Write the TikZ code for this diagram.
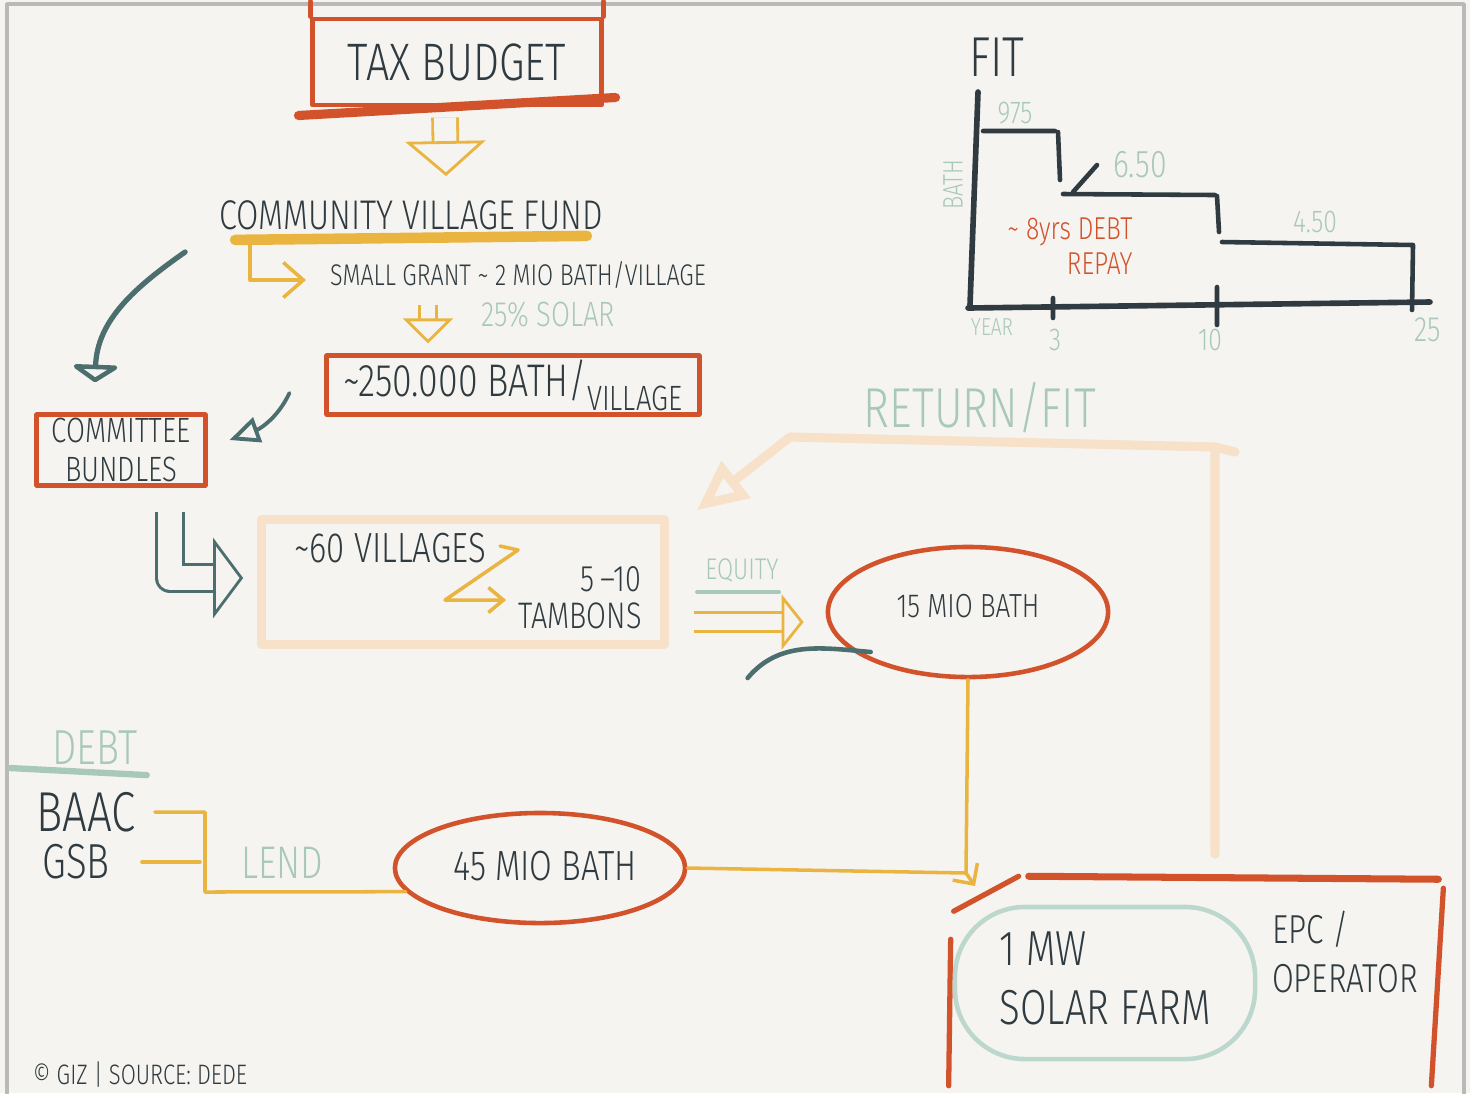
\documentclass[tikz,border=0pt]{standalone}
\usepackage{fontspec}
\setmainfont[FakeStretch=0.78,UprightFont=* Light]{Fira Sans}
\usepackage{xcolor}
\usetikzlibrary{positioning,arrows.meta,shapes.geometric,calc}

\definecolor{paper}{HTML}{F6F4F0}
\definecolor{brick}{HTML}{D2532B}
\definecolor{ink}{HTML}{2F3B40}
\definecolor{slate}{HTML}{4C6E6E}
\definecolor{amber}{HTML}{E9B440}
\definecolor{sage}{HTML}{A8C8BC}
\definecolor{peach}{HTML}{F7E2C9}
\definecolor{mint}{HTML}{BCD8CE}
\newcommand{\hsz}[1]{\fontsize{#1}{\dimexpr#1pt*6/5\relax}\selectfont}

\begin{document}
\begin{tikzpicture}[x=0.01cm,y=-0.01cm,line cap=round,line join=round,>=Latex,
  txt/.style={text=ink,inner sep=1pt},
  note/.style={text=sage,inner sep=1pt},
  frame/.style={draw=brick,line width=1.4pt},
  ring/.style={draw=brick,line width=1.3pt,ellipse},
  flow/.style={draw=amber,line width=1pt},
  thin/.style={draw=slate,line width=1.1pt},
  hollow/.style={draw=amber,line width=0.8pt,line cap=butt,double=paper,double distance=2.2mm,
    -{Triangle[open,length=3.5mm,width=8mm]}}]
\useasboundingbox (0,0) rectangle (1470,1093);
\fill[paper] (0,0) rectangle (1470,1093);
\draw[gray!55,line width=1pt] (7,1093) -- (7,4) -- (1464,4) -- (1464,1093);

% grant chain
\node[frame,txt,minimum width=2.88cm,minimum height=0.86cm,font=\hsz{15}] (tax) at (457,62) {TAX BUDGET};
\draw[brick,line width=2.6pt] ($(tax.south west)+(-12,8)$) -- ($(tax.south east)+(12,-10)$);
\draw[brick,line width=1.4pt] (tax.north west) -- ++(0,-15) (tax.north east) -- ++(0,-15);
\node[txt,font=\hsz{11.8}] (fund) at (411,215) {COMMUNITY VILLAGE FUND};
\draw[amber,line width=3pt] ($(fund.south west)+(20,6)$) -- ($(fund.south east)+(-20,2)$);
\node[txt,font=\hsz{8.5}] (grant) at (518,275) {SMALL GRANT \textasciitilde\ 2 MIO BATH/VILLAGE};
\node[note,font=\hsz{10}] (solar25) at (548,315) {25\% SOLAR};
\node[frame,txt,minimum width=3.72cm,minimum height=0.58cm,font=\hsz{13}] (perv) at (513,385)
  {\textasciitilde250.000 BATH/\raisebox{-4pt}{\hsz{10}VILLAGE}};
\node[frame,txt,minimum width=1.68cm,minimum height=0.62cm,align=center,font=\hsz{10}] (committee) at (121,450) {COMMITTEE\\[-1pt]BUNDLES};

\draw[hollow] ($(tax.south)+(-12,10)$) -- ($(fund.north)+(35,-20)$);
\draw[flow,-{Straight Barb[open,length=2mm,width=3.5mm]}] ($(fund.south west)+(35,6)$) |- ($(grant.west)+(-20,5)$);
\draw[hollow,double distance=1.4mm,-{Triangle[open,length=2.5mm,width=5mm]}] ($(grant.south)+(-90,12)$) -- ($(perv.north)+(-85,-10)$);
\draw[thin,line width=1.5pt,-{Triangle[open,round,length=1.8mm,width=5.3mm]}] ($(fund.west)+(-30,37)$) to[out=215,in=88] ($(committee.north)+(-26,-30)$);
\draw[thin,-{Triangle[open,length=3mm,width=2.6mm]}] ($(perv.west)+(-35,8)$) to[out=245,in=20] ($(committee.east)+(22,-10)$);

% villages and equity
\node[draw=peach,line width=2.4pt,minimum width=4.03cm,minimum height=1.25cm] (villages) at (463,582) {};
\node[txt,font=\hsz{12}] (v60) at (390,548) {\textasciitilde60 VILLAGES};
\node[txt,font=\hsz{10.5},align=right] (tambons) at (580,598) {5\,--10\\[-2pt]TAMBONS};
\draw[flow,-{Straight Barb[open,length=1.5mm,width=2.5mm]}] ($(v60.east)+(10,-2)$) -- ($(v60.east)+(28,2)$) -- ($(v60.east)+(-45,52)$) -- ($(tambons.west)+(-8,2)$);
\draw[hollow,draw=slate,double distance=2.4mm,-{Triangle[open,length=3mm,width=8mm]}] ($(committee.south)+(49,24)$) |- ($(villages.west)+(-14,-4)$);

\node[note,font=\hsz{8.5}] (equity) at (742,570) {EQUITY};
\draw[sage,line width=1.2pt] ($(equity.south west)+(-4,6)$) -- ($(equity.south east)+(-4,6)$);
\node[ring,minimum width=2.8cm,minimum height=1.3cm] (mio15) at (968,612) {};
\node[txt,font=\hsz{9.5}] at (968,606) {15 MIO BATH};
\draw[hollow,double distance=1.6mm,-{Triangle[open,length=2.2mm,width=5.5mm]}] ($(villages.east)+(25,40)$) -- ($(mio15.west)+(-22,10)$);
\draw[thin,line width=1.3pt] ($(mio15.west)+(-78,66)$) to[out=50,in=175] ($(mio15.west)+(45,40)$);

% return path
\node[note,font=\hsz{16}] (ret) at (980,408) {RETURN/FIT};
\node[minimum width=4.93cm,minimum height=2.08cm] (farm) at (1196,981) {};
\draw[peach,line width=2.6pt,-{Triangle[open,length=5mm,width=4.5mm]}] ($(farm.north)+(19,-22)$) -- (1215,447) -- (790,437) -- ($(villages.north east)+(28,-5)$);
\draw[peach,line width=2.6pt] (1215,447) -- (1235,452);

% debt side
\node[note,font=\hsz{14}] (debt) at (95,748) {DEBT};
\draw[sage,line width=1.8pt] (10,768) -- ($(debt.south east)+(5,6)$);
\node[txt,font=\hsz{16}] (baac) at (86,812) {BAAC};
\node[txt,font=\hsz{14}] (gsb) at (76,862) {GSB};
\node[note,font=\hsz{13}] (lend) at (282,863) {LEND};
\node[ring,minimum width=2.9cm,minimum height=1.1cm] (mio45) at (540,868) {};
\node[txt,font=\hsz{12}] at (545,866) {45 MIO BATH};
\coordinate (lendtop) at (205,812);
\coordinate (lendbot) at (205,892);
\draw[flow] ($(baac.east)+(15,0)$) -- (lendtop) -- (lendbot) -- (mio45.190);
\draw[flow] ($(gsb.east)+(28,0)$) -- (200,862);

% into the farm
\coordinate (join) at (966,873);
\draw[flow] (mio15.south) -- (join);
\draw[flow] (mio45.east) -- (join);
\draw[flow,-{Straight Barb[length=1.5mm,width=3mm]}] (join) -- ($(join)+(9,13)$);
\draw[frame,line width=1.5pt] (farm.south west) -- ($(farm.north west)+(2,63)$);
\draw[frame,line width=1.5pt] ($(farm.north west)+(5,35)$) -- ($(farm.north west)+(70,0)$);
\draw[frame,line width=2pt] ($(farm.north west)+(80,0)$) -- ($(farm.north east)+(-5,3)$);
\draw[frame,line width=1.5pt] ($(farm.north east)+(0,12)$) -- ($(farm.south east)+(-12,0)$);
\node[draw=mint,line width=1.3pt,rounded corners=0.7cm,minimum width=3cm,minimum height=1.52cm] (solar) at (1105,983) {};
\node[txt,font=\hsz{14},align=left] at (1105,978) {1 MW\\SOLAR FARM};
\node[txt,font=\hsz{11.5},align=left] (epc) at (1345,952) {EPC /\\OPERATOR};

% FIT chart
\node[txt,font=\hsz{16}] (fit) at (997,57) {FIT};
\draw[ink,line width=1.6pt] (978,92) -- (970,305);
\draw[ink,line width=1.6pt] (968,308) -- (1430,302);
\draw[ink,line width=1.3pt] (983,131) -- (1055,131) (1058,132) -- (1060,180)
  (1063,194) -- (1215,195) (1217,196) -- (1219,232)
  (1222,242) -- (1413,245) -- (1412,310);
\draw[ink,line width=1.3pt] (1053,298) -- (1053,318) (1217,287) -- (1217,325) (1073,192) -- (1097,165);
\node[note,font=\hsz{9}] at (1015,113) {975};
\node[note,font=\hsz{11}] at (1140,165) {6.50};
\node[note,font=\hsz{9}] at (1315,222) {4.50};
\node[note,font=\hsz{8},rotate=90] at (953,185) {BATH};
\node[note,font=\hsz{7}] at (992,327) {YEAR};
\node[note,font=\hsz{9}] at (1055,340) {3};
\node[note,font=\hsz{9}] at (1210,340) {10};
\node[note,font=\hsz{10}] at (1428,330) {25};
\node[text=brick,font=\hsz{9},align=right,inner sep=1pt] at (1070,246) {\textasciitilde\ 8yrs DEBT\\[-1pt]REPAY};

\node[txt,font=\hsz{8}] (credit) at (140,1075) {© GIZ | SOURCE: DEDE};
\end{tikzpicture}
\end{document}
